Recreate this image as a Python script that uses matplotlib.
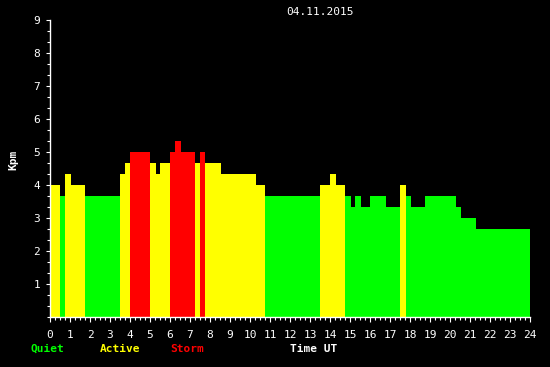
import matplotlib
matplotlib.use("Agg")
import matplotlib.pyplot as plt
from matplotlib.ticker import MultipleLocator

# Kpm segments: start hour, end hour, value
seg_start = [0.0, 0.5, 0.75, 1.05, 1.75, 3.5, 3.75, 4.0, 5.0, 5.3, 5.5, 6.0, 6.25,
             6.55, 7.25, 7.5, 7.75, 8.55, 10.3, 10.75, 13.5, 14.0, 14.3, 14.75,
             15.05, 15.25, 15.55, 16.0, 16.8, 17.5, 17.8, 18.05, 18.75, 20.3,
             20.55, 21.3]
seg_end = seg_start[1:] + [24.0]
kpm = [4.0, 3.67, 4.33, 4.0, 3.67, 4.33, 4.67, 5.0, 4.67, 4.33, 4.67, 5.0, 5.33,
       5.0, 4.67, 5.0, 4.67, 4.33, 4.0, 3.67, 4.0, 4.33, 4.0, 3.67,
       3.33, 3.67, 3.33, 3.67, 3.33, 4.0, 3.67, 3.33, 3.67, 3.33,
       3.0, 2.67]

date_label = "04.11.2015"
legend_names = ["Quiet", "Active", "Storm"]
legend_colors = ["#00ff00", "#ffff00", "#ff0000"]


def kp_color(v):
    if v >= 5:
        return legend_colors[2]
    if v >= 4:
        return legend_colors[1]
    return legend_colors[0]


font = "DejaVu Sans Mono"
fig = plt.figure(figsize=(5.5, 3.67), dpi=100, facecolor="black")
ax = fig.add_axes([50 / 550, 50 / 367, 480 / 550, 297 / 367])
ax.set_facecolor("black")

widths = [e - s for s, e in zip(seg_start, seg_end)]
ax.bar(seg_start, kpm, width=widths, align="edge",
       color=[kp_color(v) for v in kpm], linewidth=0)

ax.set_xlim(0, 24)
ax.set_ylim(0, 9)
for side in ["top", "right"]:
    ax.spines[side].set_visible(False)
for side in ["left", "bottom"]:
    ax.spines[side].set_color("white")
    ax.spines[side].set_linewidth(1)

ax.xaxis.set_major_locator(MultipleLocator(1))
ax.xaxis.set_minor_locator(MultipleLocator(0.25))
ax.set_yticks(range(1, 10))
ax.yaxis.set_minor_locator(MultipleLocator(1 / 3))
ax.tick_params(colors="white", which="both", width=0.8)
ax.tick_params(axis="x", which="major", length=3.6, pad=6, labelsize=8)
ax.tick_params(axis="x", which="minor", length=2.2)
ax.tick_params(axis="y", which="major", length=3, pad=4, labelsize=8)
ax.tick_params(axis="y", which="minor", length=2)
for lbl in ax.get_xticklabels() + ax.get_yticklabels():
    lbl.set_fontfamily(font)

fig.text(320 / 550, 1 - 12 / 367, date_label, color="white", fontsize=8,
         family=font, ha="center", va="center")
fig.text(13 / 550, 1 - 160 / 367, "Kpm", color="white", fontsize=8,
         family=font, fontweight="bold", rotation=90, ha="center", va="center")
fig.text(314 / 550, 1 - 349 / 367, "Time UT", color="white", fontsize=8,
         family=font, fontweight="bold", ha="center", va="center")
for name, col, xc in zip(legend_names, legend_colors, [47, 120, 187]):
    fig.text(xc / 550, 1 - 349 / 367, name, color=col, fontsize=8,
             family=font, fontweight="bold", ha="center", va="center")

fig.savefig("out.png", dpi=100, facecolor="black")
